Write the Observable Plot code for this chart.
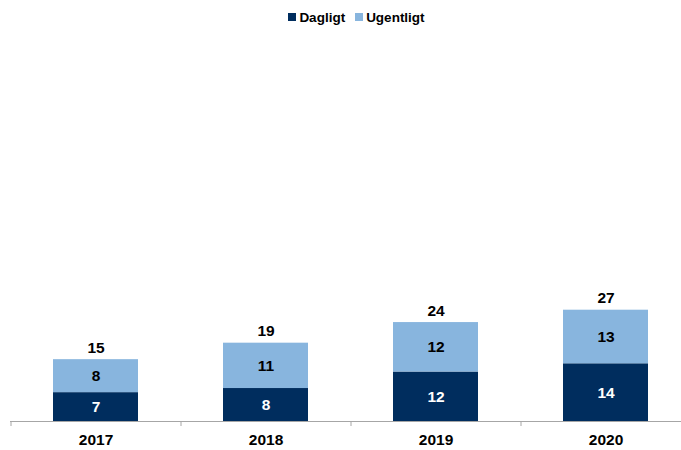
<!DOCTYPE html>
<html>
<head>
<meta charset="utf-8">
<script src="https://cdn.jsdelivr.net/npm/d3@7"></script>
<script src="https://cdn.jsdelivr.net/npm/@observablehq/plot@0.6"></script>
<style>
  body { margin: 0; background: #fff; font-family: "Liberation Sans", Arial, sans-serif; }
  #legend { height: 30px; display: flex; justify-content: center; align-items: center; font-weight: bold; font-size: 13.5px; color: #000; padding-top: 4px; padding-left: 32px; box-sizing: border-box; }
  .item { display: flex; align-items: center; margin: 0 5px; }
  .sw { width: 8px; height: 8px; margin-right: 3px; }
</style>
</head>
<body>
<div id="legend"></div>
<div id="chart"></div>
<script>
const years = ["2017", "2018", "2019", "2020"];
const series = ["Dagligt", "Ugentligt"];
const dagligt = [7, 8, 12, 14];
const ugentligt = [8, 11, 12, 13];
const totals = [15, 19, 24, 27];
const colors = ["#002d5e", "#88b5de"];

const rows = [];
years.forEach((y, i) => {
  rows.push({year: y, series: "Dagligt", value: dagligt[i], lo: 0, hi: dagligt[i]});
  rows.push({year: y, series: "Ugentligt", value: ugentligt[i], lo: dagligt[i], hi: dagligt[i] + ugentligt[i]});
});
const totalRows = years.map((y, i) => ({year: y, total: totals[i]}));

const legend = document.getElementById("legend");
series.forEach((s, i) => {
  const it = document.createElement("div");
  it.className = "item";
  it.innerHTML = `<span class="sw" style="background:${colors[i]}"></span><span>${s}</span>`;
  legend.appendChild(it);
});

const chart = Plot.plot({
  width: 681,
  height: 420,
  marginLeft: 10,
  marginRight: 0,
  marginTop: 20,
  marginBottom: 29,
  style: {fontFamily: "Liberation Sans, Arial, sans-serif", background: "#fff"},
  x: {domain: years, range: [10, 690], paddingInner: 0.5, paddingOuter: 0.25, label: null},
  y: {domain: [0, 90], axis: null},
  color: {domain: series, range: colors},
  marks: [
    Plot.barY(rows, {x: "year", y1: "lo", y2: "hi", fill: "series"}),
    Plot.ruleY([0], {stroke: "#a6a6a6", strokeWidth: 1}),
    Plot.ruleX(years, {x: d => d, dx: -85, y1: 0, y2: 0, insetBottom: -5, stroke: "#a6a6a6"}),
    Plot.text(rows, {x: "year", y: d => (d.lo + d.hi) / 2, text: d => String(d.value),
      fill: d => d.series === "Dagligt" ? "#fff" : "#000", fontSize: 15.5, fontWeight: "bold"}),
    Plot.text(totalRows, {x: "year", y: "total", text: d => String(d.total), dy: -12,
      fill: "#000", fontSize: 15.5, fontWeight: "bold"}),
    Plot.axisX({tickSize: 0, tickPadding: 12, fontSize: 15.5, fontWeight: "bold", fill: "#000", label: null})
  ]
});
document.getElementById("chart").appendChild(chart);
</script>
</body>
</html>
